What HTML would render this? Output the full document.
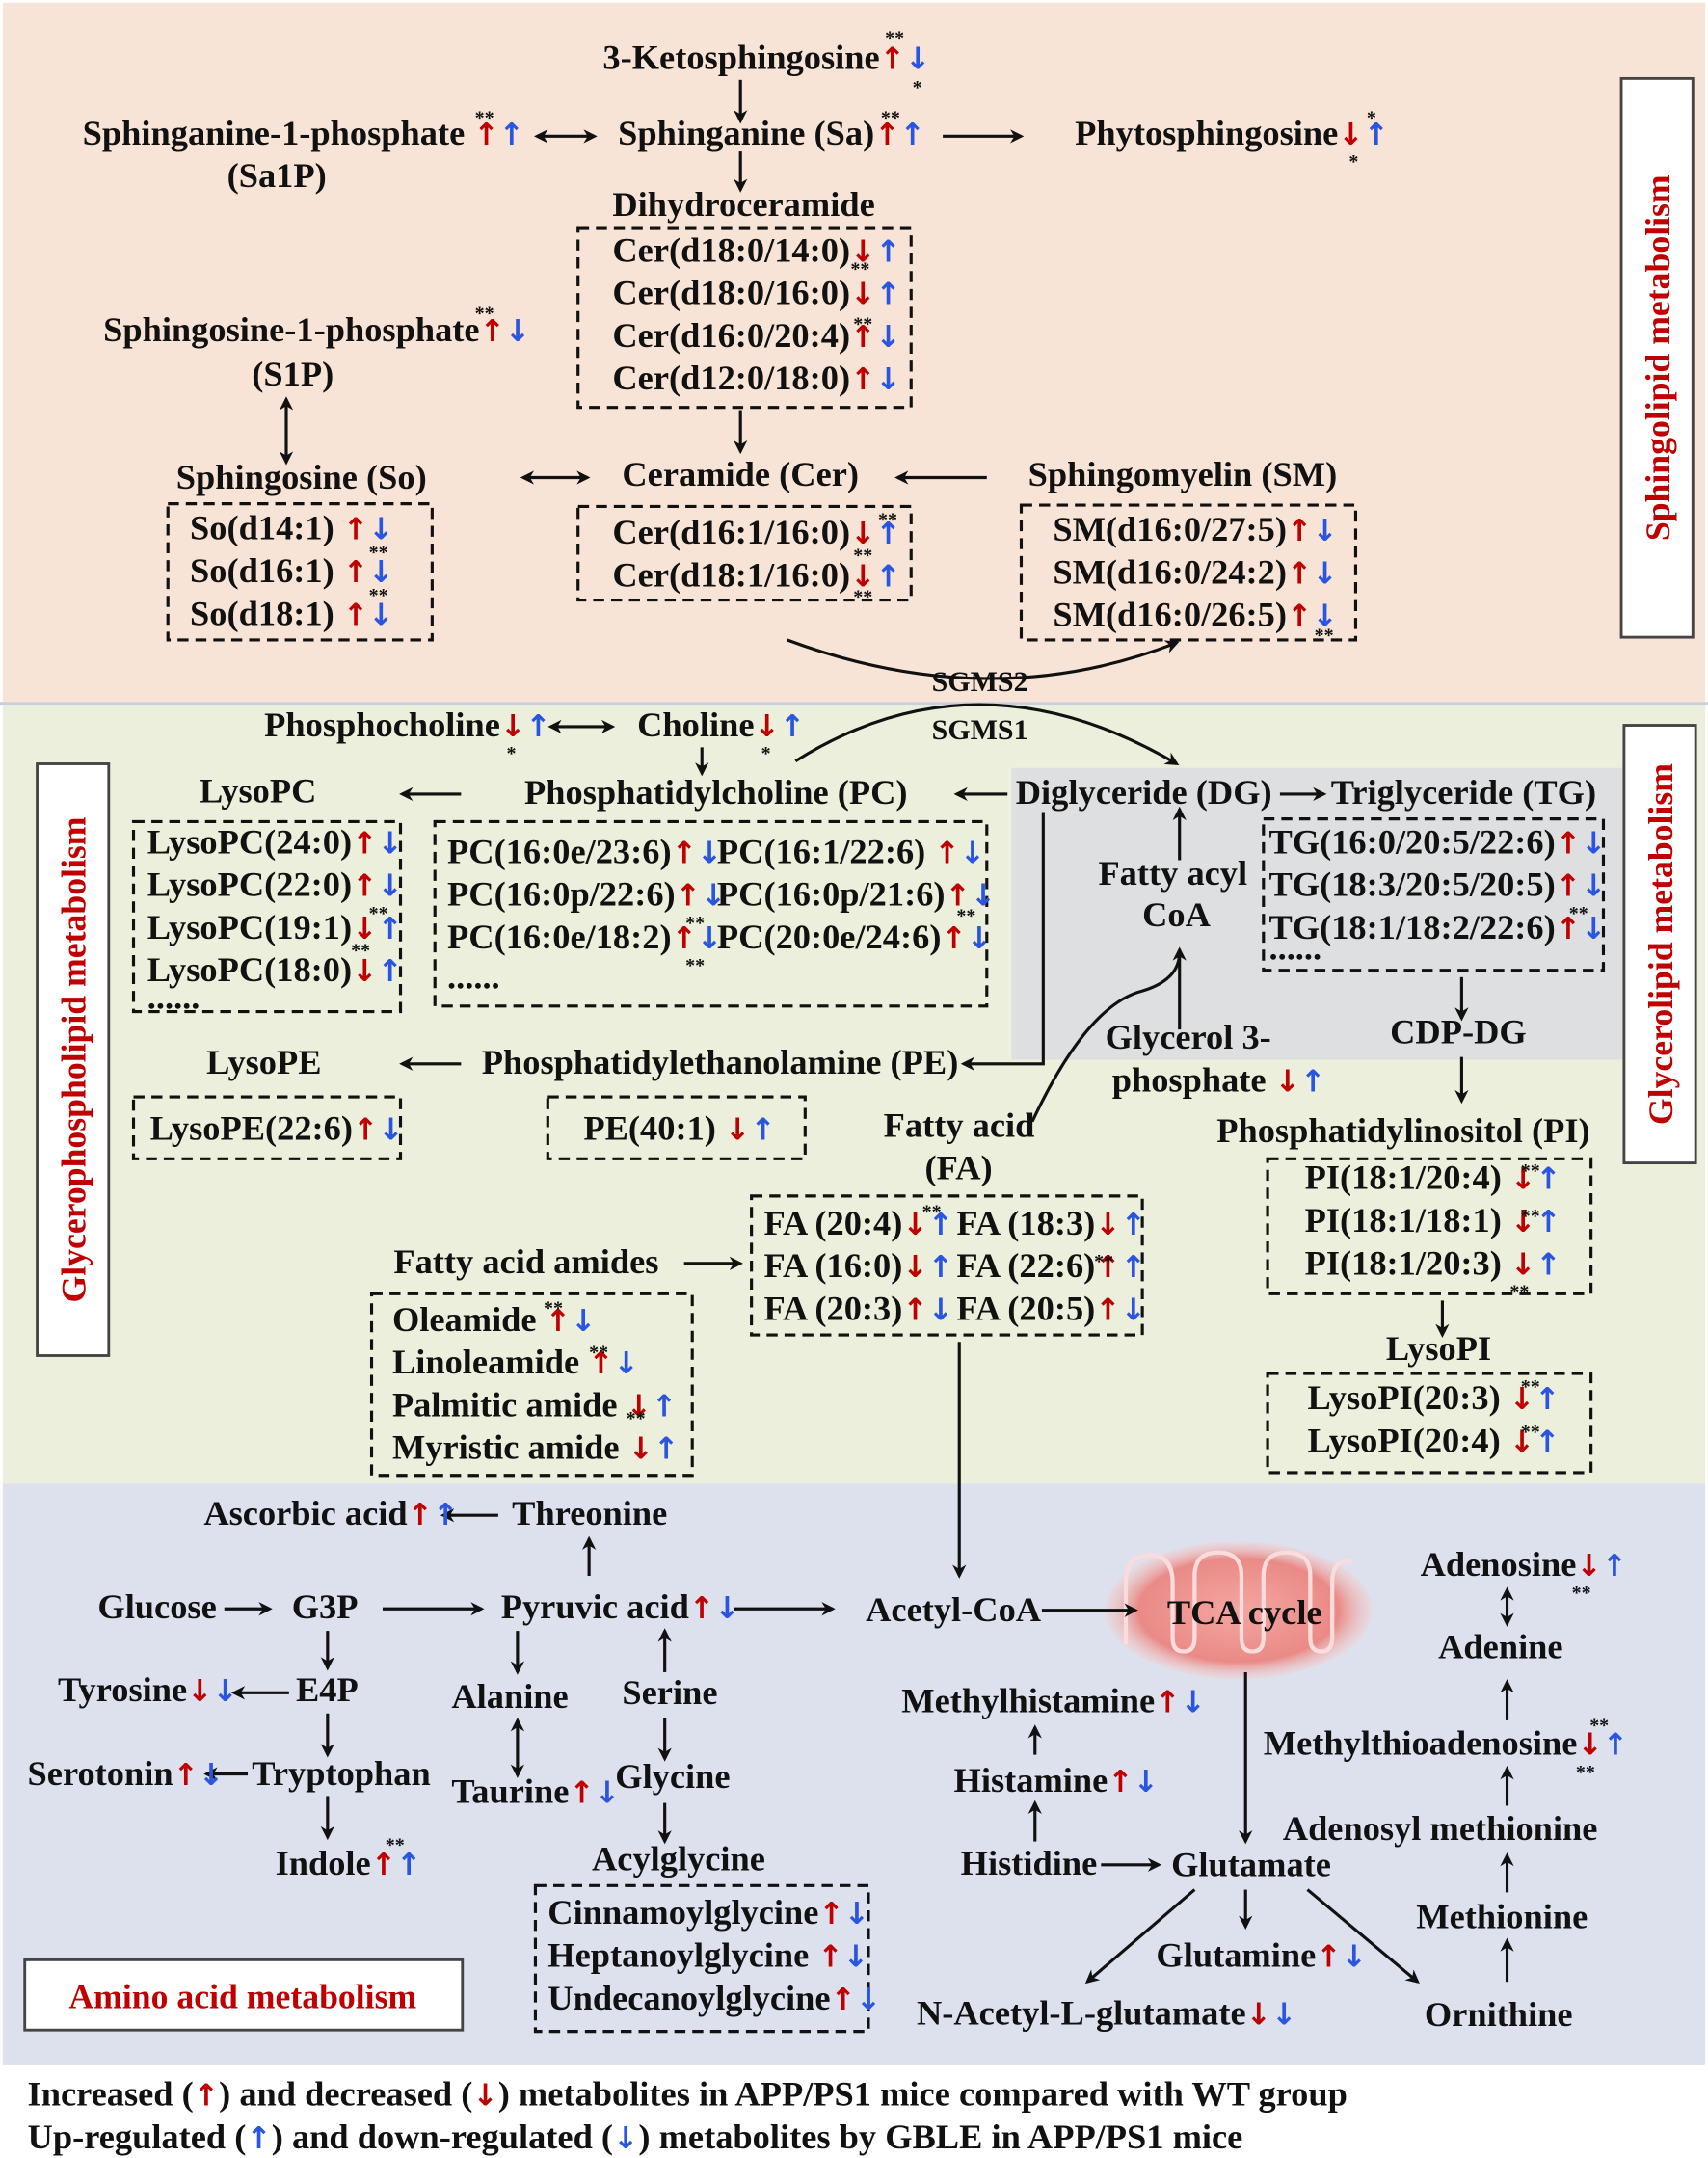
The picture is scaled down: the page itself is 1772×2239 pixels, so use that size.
<!DOCTYPE html>
<html><head><meta charset="utf-8"><style>
html,body{margin:0;padding:0;background:#fff}
svg{display:block}
text{font-family:"Liberation Serif",serif;font-weight:bold;font-size:25.5px;fill:#111}
.r{fill:#c00000;font-family:"DejaVu Sans",sans-serif;font-size:22px}
.b{fill:#2a55e0;font-family:"DejaVu Sans",sans-serif;font-size:22px}
.s{font-size:14px}
.lab{fill:#c00000;font-size:25px}
</style></head><body>
<svg width="1772" height="2239" viewBox="0 0 1241 1568" preserveAspectRatio="none" xmlns="http://www.w3.org/2000/svg">
<defs>
<marker id="a" markerWidth="10" markerHeight="10" refX="8" refY="5" orient="auto" markerUnits="userSpaceOnUse"><path d="M0,0 L10,5 L0,10 L3,5 z" fill="#111"/></marker>
<marker id="s" markerWidth="10" markerHeight="10" refX="2" refY="5" orient="auto" markerUnits="userSpaceOnUse"><path d="M10,0 L0,5 L10,10 L7,5 z" fill="#111"/></marker>
<radialGradient id="m" cx="50%" cy="50%" r="50%"><stop offset="0" stop-color="#f4a6a2"/><stop offset="0.75" stop-color="#ea8a86"/><stop offset="1" stop-color="#f3d0d0" stop-opacity="0.4"/></radialGradient>
</defs>
<rect x="0" y="0" width="1241" height="1568" fill="#fff"/>
<rect x="2" y="2" width="1237" height="508" fill="#f8e4d6"/>
<rect x="2" y="512" width="1237" height="566" fill="#ebefdb"/>
<rect x="735" y="558" width="447" height="212" fill="#dedfe0"/>
<rect x="2" y="1078" width="1237" height="422" fill="#dce1ed"/>
<line x1="0" y1="511" x2="1241" y2="511" stroke="#c9d0dc" stroke-width="2"/>
<rect x="1178" y="57" width="52" height="406" fill="#fff" stroke="#444" stroke-width="2"/>
<text class="lab" transform="translate(1213,260) rotate(-90)" text-anchor="middle">Sphingolipid metabolism</text>
<rect x="1180" y="527" width="52" height="318" fill="#fff" stroke="#444" stroke-width="2"/>
<text class="lab" transform="translate(1215,686) rotate(-90)" text-anchor="middle">Glycerolipid metabolism</text>
<rect x="27" y="555" width="52" height="430" fill="#fff" stroke="#444" stroke-width="2"/>
<text class="lab" transform="translate(62,770) rotate(-90)" text-anchor="middle">Glycerophospholipid metabolism</text>
<rect x="18" y="1424" width="318" height="51" fill="#fff" stroke="#444" stroke-width="2"/>
<text class="lab" x="50" y="1459">Amino acid metabolism</text>

<!-- mitochondrion -->
<ellipse cx="900" cy="1170" rx="97" ry="50" fill="url(#m)"/>
<path d="M818,1195 L818,1150 Q818,1130 835,1130 Q852,1130 852,1150 L852,1190 Q852,1200 860,1200 Q868,1200 868,1190 L868,1145 Q868,1128 885,1128 Q902,1128 902,1145 L902,1190 Q902,1200 910,1200 Q918,1200 918,1190 L918,1145 Q918,1128 935,1128 Q952,1128 952,1145 L952,1190 Q952,1200 960,1200 Q968,1200 968,1190 L968,1150 Q968,1132 982,1135" fill="none" stroke="#fbdcdc" stroke-width="3"/>

<g fill="none" stroke="#111" stroke-width="2.2" stroke-dasharray="8,5">
<rect x="420" y="166" width="242" height="130"/>
<rect x="122" y="366" width="192" height="99"/>
<rect x="420" y="368" width="242" height="68"/>
<rect x="742" y="367" width="243" height="98"/>
<rect x="97" y="597" width="194" height="138"/>
<rect x="316" y="597" width="401" height="134"/>
<rect x="918" y="595" width="247" height="110"/>
<rect x="921" y="842" width="235" height="98"/>
<rect x="921" y="998" width="235" height="72"/>
<rect x="97" y="797" width="194" height="45"/>
<rect x="398" y="797" width="187" height="45"/>
<rect x="546" y="869" width="284" height="101"/>
<rect x="270" y="940" width="233" height="132"/>
<rect x="389" y="1370" width="242" height="106"/>
</g>

<g stroke="#111" stroke-width="2.2" fill="none">
<line x1="538" y1="58" x2="538" y2="88" marker-end="url(#a)"/>
<line x1="390" y1="99" x2="432" y2="99" marker-end="url(#a)" marker-start="url(#s)"/>
<line x1="685" y1="99" x2="742" y2="99" marker-end="url(#a)"/>
<line x1="538" y1="110" x2="538" y2="138" marker-end="url(#a)"/>
<line x1="208" y1="290" x2="208" y2="336" marker-end="url(#a)" marker-start="url(#s)"/>
<line x1="538" y1="298" x2="538" y2="328" marker-end="url(#a)"/>
<line x1="380" y1="347" x2="427" y2="347" marker-end="url(#a)" marker-start="url(#s)"/>
<line x1="717" y1="347" x2="652" y2="347" marker-end="url(#a)"/>
<path d="M572,465 Q720,520 855,467" marker-end="url(#a)"/>
<path d="M578,553 Q710,470 855,555" marker-end="url(#a)"/>
<line x1="400" y1="528" x2="445" y2="528" marker-end="url(#a)" marker-start="url(#s)"/>
<line x1="510" y1="543" x2="510" y2="562" marker-end="url(#a)"/>
<line x1="335" y1="577" x2="292" y2="577" marker-end="url(#a)"/>
<line x1="732" y1="577" x2="695" y2="577" marker-end="url(#a)"/>
<line x1="930" y1="577" x2="962" y2="577" marker-end="url(#a)"/>
<line x1="857" y1="625" x2="857" y2="588" marker-end="url(#a)"/>
<line x1="857" y1="748" x2="857" y2="690" marker-end="url(#a)"/>
<path d="M750,815 Q790,730 830,720 Q857,712 857,692"/>
<path d="M758,590 L758,773 L700,773" marker-end="url(#a)"/>
<line x1="1062" y1="710" x2="1062" y2="740" marker-end="url(#a)"/>
<line x1="1062" y1="768" x2="1062" y2="800" marker-end="url(#a)"/>
<line x1="1048" y1="945" x2="1048" y2="970" marker-end="url(#a)"/>
<line x1="335" y1="773" x2="292" y2="773" marker-end="url(#a)"/>
<line x1="497" y1="918" x2="538" y2="918" marker-end="url(#a)"/>
<line x1="697" y1="975" x2="697" y2="1145" marker-end="url(#a)"/>
<line x1="362" y1="1101" x2="322" y2="1101" marker-end="url(#a)"/>
<line x1="428" y1="1145" x2="428" y2="1118" marker-end="url(#a)"/>
<line x1="163" y1="1169" x2="196" y2="1169" marker-end="url(#a)"/>
<line x1="278" y1="1169" x2="350" y2="1169" marker-end="url(#a)"/>
<line x1="533" y1="1169" x2="605" y2="1169" marker-end="url(#a)"/>
<line x1="757" y1="1170" x2="825" y2="1170" marker-end="url(#a)"/>
<line x1="238" y1="1185" x2="238" y2="1212" marker-end="url(#a)"/>
<line x1="210" y1="1230" x2="170" y2="1230" marker-end="url(#a)"/>
<line x1="238" y1="1245" x2="238" y2="1275" marker-end="url(#a)"/>
<line x1="180" y1="1289" x2="150" y2="1289" marker-end="url(#a)"/>
<line x1="238" y1="1305" x2="238" y2="1335" marker-end="url(#a)"/>
<line x1="376" y1="1185" x2="376" y2="1215" marker-end="url(#a)"/>
<line x1="376" y1="1250" x2="376" y2="1290" marker-end="url(#a)" marker-start="url(#s)"/>
<line x1="483" y1="1215" x2="483" y2="1185" marker-end="url(#a)"/>
<line x1="483" y1="1248" x2="483" y2="1278" marker-end="url(#a)"/>
<line x1="483" y1="1310" x2="483" y2="1338" marker-end="url(#a)"/>
<line x1="752" y1="1275" x2="752" y2="1255" marker-end="url(#a)"/>
<line x1="752" y1="1338" x2="752" y2="1310" marker-end="url(#a)"/>
<line x1="800" y1="1355" x2="842" y2="1355" marker-end="url(#a)"/>
<line x1="905" y1="1215" x2="905" y2="1338" marker-end="url(#a)"/>
<line x1="905" y1="1373" x2="905" y2="1400" marker-end="url(#a)"/>
<line x1="868" y1="1373" x2="790" y2="1440" marker-end="url(#a)"/>
<line x1="950" y1="1373" x2="1030" y2="1440" marker-end="url(#a)"/>
<line x1="1095" y1="1155" x2="1095" y2="1180" marker-end="url(#a)" marker-start="url(#s)"/>
<line x1="1095" y1="1250" x2="1095" y2="1222" marker-end="url(#a)"/>
<line x1="1095" y1="1312" x2="1095" y2="1285" marker-end="url(#a)"/>
<line x1="1095" y1="1375" x2="1095" y2="1348" marker-end="url(#a)"/>
<line x1="1095" y1="1440" x2="1095" y2="1410" marker-end="url(#a)"/>
</g>

<text x="438" y="50">3-Ketosphingosine<tspan class="r">↑</tspan><tspan class="b">↓</tspan></text>
<text x="60" y="105">Sphinganine-1-phosphate <tspan class="r">↑</tspan><tspan class="b">↑</tspan></text>
<text x="165" y="136">(Sa1P)</text>
<text x="449" y="105">Sphinganine (Sa)<tspan class="r">↑</tspan><tspan class="b">↑</tspan></text>
<text x="781" y="105">Phytosphingosine<tspan class="r">↓</tspan><tspan class="b">↑</tspan></text>
<text x="445" y="157">Dihydroceramide</text>
<text x="445" y="190">Cer(d18:0/14:0)<tspan class="r">↓</tspan><tspan class="b">↑</tspan></text>
<text x="445" y="221">Cer(d18:0/16:0)<tspan class="r">↓</tspan><tspan class="b">↑</tspan></text>
<text x="445" y="252">Cer(d16:0/20:4)<tspan class="r">↑</tspan><tspan class="b">↓</tspan></text>
<text x="445" y="283">Cer(d12:0/18:0)<tspan class="r">↑</tspan><tspan class="b">↓</tspan></text>
<text x="75" y="248">Sphingosine-1-phosphate<tspan class="r">↑</tspan><tspan class="b">↓</tspan></text>
<text x="183" y="280">(S1P)</text>
<text x="128" y="355">Sphingosine (So)</text>
<text x="452" y="353">Ceramide (Cer)</text>
<text x="747" y="353">Sphingomyelin (SM)</text>
<text x="138" y="392">So(d14:1) <tspan class="r">↑</tspan><tspan class="b">↓</tspan></text>
<text x="138" y="423">So(d16:1) <tspan class="r">↑</tspan><tspan class="b">↓</tspan></text>
<text x="138" y="454">So(d18:1) <tspan class="r">↑</tspan><tspan class="b">↓</tspan></text>
<text x="445" y="395">Cer(d16:1/16:0)<tspan class="r">↓</tspan><tspan class="b">↑</tspan></text>
<text x="445" y="426">Cer(d18:1/16:0)<tspan class="r">↓</tspan><tspan class="b">↑</tspan></text>
<text x="765" y="393">SM(d16:0/27:5)<tspan class="r">↑</tspan><tspan class="b">↓</tspan></text>
<text x="765" y="424">SM(d16:0/24:2)<tspan class="r">↑</tspan><tspan class="b">↓</tspan></text>
<text x="765" y="455">SM(d16:0/26:5)<tspan class="r">↑</tspan><tspan class="b">↓</tspan></text>
<text x="677" y="502" style="font-size:21px">SGMS2</text>
<text x="677" y="537" style="font-size:21px">SGMS1</text>

<text x="192" y="535">Phosphocholine<tspan class="r">↓</tspan><tspan class="b">↑</tspan></text>
<text x="463" y="535">Choline<tspan class="r">↓</tspan><tspan class="b">↑</tspan></text>
<text x="145" y="583">LysoPC</text>
<text x="381" y="584">Phosphatidylcholine (PC)</text>
<text x="738" y="584">Diglyceride (DG)</text>
<text x="967" y="584">Triglyceride (TG)</text>
<text x="107" y="620">LysoPC(24:0)<tspan class="r">↑</tspan><tspan class="b">↓</tspan></text>
<text x="107" y="651">LysoPC(22:0)<tspan class="r">↑</tspan><tspan class="b">↓</tspan></text>
<text x="107" y="682">LysoPC(19:1)<tspan class="r">↓</tspan><tspan class="b">↑</tspan></text>
<text x="107" y="713">LysoPC(18:0)<tspan class="r">↓</tspan><tspan class="b">↑</tspan></text>
<text x="107" y="733">......</text>
<text x="325" y="627">PC(16:0e/23:6)<tspan class="r">↑</tspan><tspan class="b">↓</tspan></text>
<text x="521" y="627">PC(16:1/22:6) <tspan class="r">↑</tspan><tspan class="b">↓</tspan></text>
<text x="325" y="658">PC(16:0p/22:6)<tspan class="r">↑</tspan><tspan class="b">↓</tspan></text>
<text x="521" y="658">PC(16:0p/21:6)<tspan class="r">↑</tspan><tspan class="b">↓</tspan></text>
<text x="325" y="689">PC(16:0e/18:2)<tspan class="r">↑</tspan><tspan class="b">↓</tspan></text>
<text x="521" y="689">PC(20:0e/24:6)<tspan class="r">↑</tspan><tspan class="b">↓</tspan></text>
<text x="325" y="718">......</text>
<text x="798" y="643">Fatty acyl</text>
<text x="830" y="673">CoA</text>
<text x="922" y="620">TG(16:0/20:5/22:6)<tspan class="r">↑</tspan><tspan class="b">↓</tspan></text>
<text x="922" y="651">TG(18:3/20:5/20:5)<tspan class="r">↑</tspan><tspan class="b">↓</tspan></text>
<text x="922" y="682">TG(18:1/18:2/22:6)<tspan class="r">↑</tspan><tspan class="b">↓</tspan></text>
<text x="922" y="697">......</text>
<text x="803" y="762">Glycerol 3-</text>
<text x="808" y="793">phosphate <tspan class="r">↓</tspan><tspan class="b">↑</tspan></text>
<text x="1010" y="758">CDP-DG</text>
<text x="884" y="830">Phosphatidylinositol (PI)</text>
<text x="948" y="864">PI(18:1/20:4) <tspan class="r">↓</tspan><tspan class="b">↑</tspan></text>
<text x="948" y="895">PI(18:1/18:1) <tspan class="r">↓</tspan><tspan class="b">↑</tspan></text>
<text x="948" y="926">PI(18:1/20:3) <tspan class="r">↓</tspan><tspan class="b">↑</tspan></text>
<text x="1007" y="988">LysoPI</text>
<text x="950" y="1024">LysoPI(20:3) <tspan class="r">↓</tspan><tspan class="b">↑</tspan></text>
<text x="950" y="1055">LysoPI(20:4) <tspan class="r">↓</tspan><tspan class="b">↑</tspan></text>
<text x="150" y="780">LysoPE</text>
<text x="350" y="780">Phosphatidylethanolamine (PE)</text>
<text x="109" y="828">LysoPE(22:6)<tspan class="r">↑</tspan><tspan class="b">↓</tspan></text>
<text x="424" y="828">PE(40:1) <tspan class="r">↓</tspan><tspan class="b">↑</tspan></text>
<text x="642" y="826">Fatty acid</text>
<text x="672" y="857">(FA)</text>
<text x="555" y="897">FA (20:4)<tspan class="r">↓</tspan><tspan class="b">↑</tspan></text>
<text x="695" y="897">FA (18:3)<tspan class="r">↓</tspan><tspan class="b">↑</tspan></text>
<text x="555" y="928">FA (16:0)<tspan class="r">↓</tspan><tspan class="b">↑</tspan></text>
<text x="695" y="928">FA (22:6)<tspan class="r">↑</tspan><tspan class="b">↑</tspan></text>
<text x="555" y="959">FA (20:3)<tspan class="r">↑</tspan><tspan class="b">↓</tspan></text>
<text x="695" y="959">FA (20:5)<tspan class="r">↑</tspan><tspan class="b">↓</tspan></text>
<text x="286" y="925">Fatty acid amides</text>
<text x="285" y="967">Oleamide <tspan class="r">↑</tspan><tspan class="b">↓</tspan></text>
<text x="285" y="998">Linoleamide <tspan class="r">↑</tspan><tspan class="b">↓</tspan></text>
<text x="285" y="1029">Palmitic amide <tspan class="r">↓</tspan><tspan class="b">↑</tspan></text>
<text x="285" y="1060">Myristic amide <tspan class="r">↓</tspan><tspan class="b">↑</tspan></text>

<text x="148" y="1108">Ascorbic acid<tspan class="r">↑</tspan><tspan class="b">↑</tspan></text>
<text x="372" y="1108">Threonine</text>
<text x="71" y="1176">Glucose</text>
<text x="212" y="1176">G3P</text>
<text x="364" y="1176">Pyruvic acid<tspan class="r">↑</tspan><tspan class="b">↓</tspan></text>
<text x="629" y="1178">Acetyl-CoA</text>
<text x="848" y="1180">TCA cycle</text>
<text x="42" y="1236">Tyrosine<tspan class="r">↓</tspan><tspan class="b">↓</tspan></text>
<text x="215" y="1236">E4P</text>
<text x="20" y="1297">Serotonin<tspan class="r">↑</tspan><tspan class="b">↓</tspan></text>
<text x="183" y="1297">Tryptophan</text>
<text x="200" y="1362">Indole<tspan class="r">↑</tspan><tspan class="b">↑</tspan></text>
<text x="328" y="1241">Alanine</text>
<text x="328" y="1310">Taurine<tspan class="r">↑</tspan><tspan class="b">↓</tspan></text>
<text x="452" y="1238">Serine</text>
<text x="447" y="1299">Glycine</text>
<text x="430" y="1359">Acylglycine</text>
<text x="398" y="1398">Cinnamoylglycine<tspan class="r">↑</tspan><tspan class="b">↓</tspan></text>
<text x="398" y="1429">Heptanoylglycine <tspan class="r">↑</tspan><tspan class="b">↓</tspan></text>
<text x="398" y="1460">Undecanoylglycine<tspan class="r">↑</tspan><tspan class="b">↓</tspan></text>
<text x="655" y="1244">Methylhistamine<tspan class="r">↑</tspan><tspan class="b">↓</tspan></text>
<text x="693" y="1302">Histamine<tspan class="r">↑</tspan><tspan class="b">↓</tspan></text>
<text x="698" y="1362">Histidine</text>
<text x="851" y="1363">Glutamate</text>
<text x="840" y="1429">Glutamine<tspan class="r">↑</tspan><tspan class="b">↓</tspan></text>
<text x="666" y="1471">N-Acetyl-L-glutamate<tspan class="r">↓</tspan><tspan class="b">↓</tspan></text>
<text x="1035" y="1472">Ornithine</text>
<text x="1032" y="1145">Adenosine<tspan class="r">↓</tspan><tspan class="b">↑</tspan></text>
<text x="1045" y="1205">Adenine</text>
<text x="918" y="1275">Methylthioadenosine<tspan class="r">↓</tspan><tspan class="b">↑</tspan></text>
<text x="932" y="1337">Adenosyl methionine</text>
<text x="1029" y="1401">Methionine</text>

<g>
<text class="s" x="643" y="32">**</text><text class="s" x="663" y="68">*</text>
<text class="s" x="345" y="90">**</text><text class="s" x="640" y="90">**</text>
<text class="s" x="993" y="90">*</text><text class="s" x="980" y="122">*</text>
<text class="s" x="345" y="232">**</text>
<text class="s" x="618" y="200">**</text><text class="s" x="620" y="240">**</text>
<text class="s" x="268" y="406">**</text><text class="s" x="268" y="437">**</text>
<text class="s" x="638" y="382">**</text><text class="s" x="620" y="408">**</text><text class="s" x="620" y="438">**</text>
<text class="s" x="955" y="466">**</text>
<text class="s" x="368" y="552">*</text><text class="s" x="553" y="552">*</text>
<text class="s" x="268" y="668">**</text><text class="s" x="255" y="695">**</text>
<text class="s" x="498" y="675">**</text><text class="s" x="695" y="670">**</text><text class="s" x="498" y="706">**</text>
<text class="s" x="1140" y="668">**</text>
<text class="s" x="1105" y="855">**</text><text class="s" x="1105" y="888">**</text><text class="s" x="1097" y="943">**</text>
<text class="s" x="1105" y="1012">**</text><text class="s" x="1105" y="1045">**</text>
<text class="s" x="670" y="885">**</text><text class="s" x="795" y="921">**</text>
<text class="s" x="395" y="955">**</text><text class="s" x="428" y="987">**</text><text class="s" x="455" y="1035">**</text>
<text class="s" x="1142" y="1162">**</text><text class="s" x="1155" y="1258">**</text><text class="s" x="1145" y="1292">**</text>
<text class="s" x="280" y="1345">**</text>
</g>

<text x="20" y="1530">Increased (<tspan class="r">↑</tspan>) and decreased (<tspan class="r">↓</tspan>) metabolites in APP/PS1 mice compared with WT group</text>
<text x="20" y="1561">Up-regulated (<tspan class="b">↑</tspan>) and down-regulated (<tspan class="b">↓</tspan>) metabolites by GBLE in APP/PS1 mice</text>
</svg>
</body></html>
